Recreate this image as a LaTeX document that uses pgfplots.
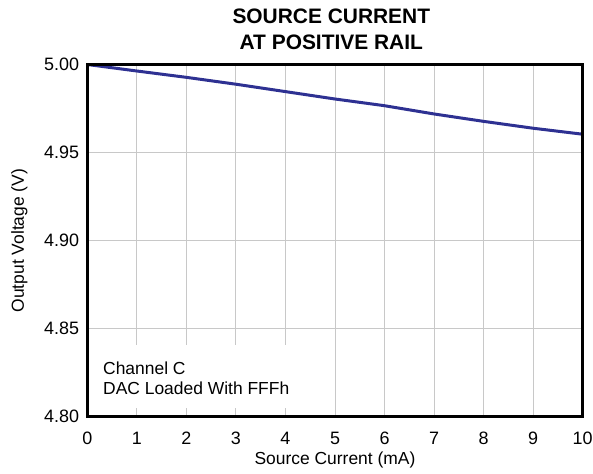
\documentclass[border=0pt]{standalone}
\usepackage{fontspec}
\setmainfont{Liberation Sans}
\usepackage{pgfplots}
\pgfplotsset{compat=1.18}
\definecolor{tiblue}{RGB}{46,49,146}
\definecolor{gridgray}{RGB}{200,200,200}
\begin{document}
\begin{tikzpicture}[x=1bp,y=1bp]
\path[use as bounding box] (-87.3,-57.3) rectangle (505.7,416.7);
\begin{axis}[
  at={(0,0)}, anchor=origin,
  scale only axis,
  width=495.4bp, height=352.2bp,
  xmin=0, xmax=10, ymin=4.80, ymax=5.00,
  xtick={0,...,10}, ytick={4.80,4.85,4.90,4.95,5.00},
  /pgf/number format/assume math mode=true,
  grid=major,
  major grid style={gridgray, line width=1bp},
  axis line style={black, line width=2.5bp},
  tick style={draw=none},
  ticklabel style={font=\fontsize{18}{18}\selectfont},
  xticklabel style={anchor=base, inner sep=0pt, yshift=-27.8bp},
  yticklabel style={anchor=east, inner sep=0pt, xshift=-8bp,
    /pgf/number format/fixed, /pgf/number format/fixed zerofill, /pgf/number format/precision=2},
  label style={font=\fontsize{17.5}{17.5}\selectfont},
  xlabel={Source Current (mA)},
  ylabel={Output Voltage (V)},
  xlabel style={at={(rel axis cs:0.5,-0.1371)}, anchor=base, inner sep=0pt},
  ylabel style={at={(rel axis cs:-0.1278,0.5)}, anchor=base, inner sep=0pt},
  clip=false,
]
\addplot[tiblue, line width=3bp, line join=round] coordinates {
(0,5.0000) (1,4.9963) (2,4.9927) (3,4.9888) (4,4.9846) (5,4.9804)
(6,4.9766) (7,4.9719) (8,4.9677) (9,4.9638) (10,4.9604)
};
\fill[white] (rel axis cs:0,0.0247) rectangle (rel axis cs:0.439,0.2036);
\node[anchor=base west, inner sep=0pt, font=\fontsize{17.5}{17.5}\selectfont]
  at (rel axis cs:0.0317,0.1212) {Channel C};
\node[anchor=base west, inner sep=0pt, font=\fontsize{17.5}{17.5}\selectfont]
  at (rel axis cs:0.0317,0.0636) {DAC Loaded With FFFh};
\draw[black, line width=2.5bp] (rel axis cs:0,0) rectangle (rel axis cs:1,1);
\end{axis}
\node[font=\bfseries\fontsize{21}{21}\selectfont, anchor=base, inner sep=0pt] at (244,393.4) {SOURCE CURRENT};
\node[font=\bfseries\fontsize{21}{21}\selectfont, anchor=base, inner sep=0pt] at (244,366.7) {AT POSITIVE RAIL};
\end{tikzpicture}
\end{document}
